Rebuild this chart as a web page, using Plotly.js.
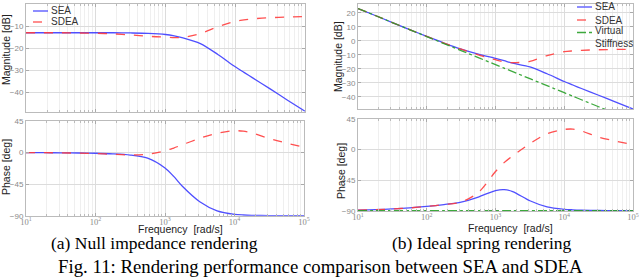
<!DOCTYPE html>
<html>
<head>
<meta charset="utf-8">
<script src="https://cdn.plot.ly/plotly-3.0.1.min.js"></script>
<style>html,body{margin:0;padding:0;background:#fff;}#chart{width:640px;height:278px;}</style>
</head>
<body>
<div id="chart"></div>
<script>
// Frequency grid [rad/s]
const freq = [10, 17.8, 31.6, 56.2, 100, 178, 316, 562, 1000, 1334, 1778, 3162, 5623, 10000, 13335, 17783, 31623, 56234, 100000];

// (a) Null impedance rendering
const nullMagSEA   = [-13, -13, -13, -13, -13, -13, -13.1, -13.3, -13.8, -14.4, -15.3, -17.9, -22.8, -28.4, -30.9, -33.4, -38.4, -43.5, -48.5];
const nullMagSDEA  = [-13, -13, -13, -13.1, -13.2, -13.5, -14, -14.6, -15, -15.2, -15.1, -13.4, -10.3, -7.8, -7.2, -6.7, -6.2, -5.9, -5.7];
const nullPhSEA    = [0, -0.2, -0.3, -0.6, -1, -1.8, -3.5, -8, -22, -34, -48, -70, -83, -88, -89, -89.5, -89.8, -90, -90];
const nullPhSDEA   = [0, -0.2, -0.4, -0.8, -1.5, -2.5, -3.3, -2.5, 2.5, 6.5, 11, 20.5, 27.5, 31.2, 30.5, 28, 20, 13.5, 7.7];

// (b) Ideal spring rendering
const springMagSEA  = [23, 18, 13, 8, 3.1, -1.6, -5.9, -9.5, -12.5, -14.2, -16, -18.6, -23.5, -29, -31.5, -34, -38.8, -43.7, -48.6];
const springMagSDEA = [23, 18, 13, 8, 3.1, -1.6, -6, -10, -13.5, -15, -15.6, -14.7, -10.5, -7.8, -7.2, -6.8, -6.4, -6.2, -6.1];
const springMagVS   = [23, 18, 13, 8, 3, -2, -7, -12, -17, -19.5, -22, -27, -32, -37, -39.5, -42, -47, -52, -57];
const springPhSEA   = [-88.6, -88, -87, -85.5, -83.3, -80.5, -77, -69.5, -60, -58.6, -61.5, -75, -84, -87.5, -88.3, -88.8, -89.3, -89.5, -89.5];
const springPhSDEA  = [-88.6, -88, -87, -85.5, -83.3, -80.5, -77, -63, -32, -19, -9, 8.8, 23.4, 29.7, 30.2, 27.5, 18.4, 12.6, 7.3];
const springPhVS    = [-89.5, -89.5, -89.5, -89.5, -89.5, -89.5, -89.5, -89.5, -89.5, -89.5, -89.5, -89.5, -89.5, -89.5, -89.5, -89.5, -89.5, -89.5, -89.5];

// Tick labels
const xMajor = [10, 100, 1000, 10000, 100000];
const xMajorText = ['10<sup>1</sup>', '10<sup>2</sup>', '10<sup>3</sup>', '10<sup>4</sup>', '10<sup>5</sup>'];
const magTicksA = [0, -10, -20, -30, -40];
const magTicksB = [20, 10, 0, -10, -20, -30, -40];
const phTicks = [45, 0, -45, -90];
const legendA = ['SEA', 'SDEA'];
const legendB = ['SEA', 'SDEA', 'Virtual<br>Stiffness'];

const xMinor = [];
xMajor.slice(0, 4).forEach(d => { for (let k = 2; k <= 9; k++) xMinor.push(d * k); });

const BLUE = 'rgba(60,60,255,0.9)';
const RED = 'rgba(255,60,60,0.9)';
const GREEN = 'rgba(40,160,40,0.9)';
const LW = 1.3;

function tr(y, name, color, dash, xa, ya) {
  return {x: freq, y: y, type: 'scatter', mode: 'lines', name: name,
    line: {color: color, width: LW, dash: dash, shape: 'spline', smoothing: 0.8},
    xaxis: xa, yaxis: ya, showlegend: false};
}

const data = [
  tr(nullMagSEA, 'SEA', BLUE, 'solid', 'x', 'y'),
  tr(nullMagSDEA, 'SDEA', RED, 'dash', 'x', 'y'),
  tr(nullPhSEA, 'SEA', BLUE, 'solid', 'x2', 'y2'),
  tr(nullPhSDEA, 'SDEA', RED, 'dash', 'x2', 'y2'),
  tr(springMagSEA, 'SEA', BLUE, 'solid', 'x3', 'y3'),
  tr(springMagSDEA, 'SDEA', RED, 'dash', 'x3', 'y3'),
  tr(springMagVS, 'Virtual Stiffness', GREEN, 'dashdot', 'x3', 'y3'),
  tr(springPhSEA, 'SEA', BLUE, 'solid', 'x4', 'y4'),
  tr(springPhSDEA, 'SDEA', RED, 'dash', 'x4', 'y4'),
  tr(springPhVS, 'Virtual Stiffness', GREEN, 'dashdot', 'x4', 'y4')
];

const W = 640, H = 278;
const px = v => v / W;
const py = v => 1 - v / H;

function xax(d0, d1, showLabels, anchor) {
  return {type: 'log', range: [1, 5], domain: [px(d0), px(d1)], anchor: anchor,
    tickvals: xMajor, ticktext: xMajorText, showticklabels: showLabels, ticklabelstandoff: -2,
    tickfont: {family: 'Liberation Serif', size: 8.5, color: '#8a8a8a'},
    ticks: 'inside', ticklen: 3, tickcolor: '#aaa',
    showline: true, mirror: 'ticks', linecolor: '#bbb', linewidth: 1,
    showgrid: true, gridcolor: '#dcdcdc', gridwidth: 1, zeroline: false,
    minor: {tickvals: xMinor, ticks: 'inside', ticklen: 2, tickcolor: '#bbb', showgrid: true, gridcolor: '#efefef', gridwidth: 1}};
}
function yax(d0, d1, range, tv, anchor) {
  return {range: range, domain: [py(d1), py(d0)], tickvals: tv, anchor: anchor,
    tickfont: {family: 'Liberation Sans', size: 8, color: '#8a8a8a'},
    ticks: 'inside', ticklen: 3, tickcolor: '#aaa',
    showline: true, mirror: 'ticks', linecolor: '#bbb', linewidth: 1,
    showgrid: true, gridcolor: '#dcdcdc', gridwidth: 1, zeroline: false};
}

const titleFont = {family: 'Liberation Sans', size: 10.5, color: '#222'};
const legFont = {family: 'Liberation Sans', size: 10, color: '#333'};
const capFont = {family: 'Liberation Serif', size: 17.5, color: '#000'};

// Legends drawn as sample lines + labels (paper px positions)
const shapes = [];
const annotations = [];
function legItem(x0, x1, yLine, label, yText, color, dash) {
  shapes.push({type: 'line', xref: 'paper', yref: 'paper', x0: px(x0), x1: px(x1), y0: py(yLine), y1: py(yLine),
    line: {color: color, width: LW, dash: dash}});
  annotations.push({text: label, xref: 'paper', yref: 'paper', x: px(x1 + 1), y: py(yText), xanchor: 'left', yanchor: 'middle',
    showarrow: false, font: legFont, align: 'left'});
}
legItem(33, 48, 11, legendA[0], 11, BLUE, 'solid');
legItem(33, 48, 22, legendA[1], 22, RED, 'dash');
legItem(577, 592, 7, legendB[0], 7, BLUE, 'solid');
legItem(577, 592, 20, legendB[1], 20, RED, 'dash');
legItem(577, 592, 32.5, legendB[2], 37, GREEN, 'dashdot');

annotations.push(
  {text: 'Magnitude [dB]', xref: 'paper', yref: 'paper', x: px(6), y: py(50), textangle: -90, showarrow: false, font: titleFont, xanchor: 'center', yanchor: 'middle'},
  {text: 'Phase [deg]', xref: 'paper', yref: 'paper', x: px(6), y: py(167), textangle: -90, showarrow: false, font: titleFont, xanchor: 'center', yanchor: 'middle'},
  {text: 'Magnitude [dB]', xref: 'paper', yref: 'paper', x: px(338), y: py(57), textangle: -90, showarrow: false, font: titleFont, xanchor: 'center', yanchor: 'middle'},
  {text: 'Phase [deg]', xref: 'paper', yref: 'paper', x: px(341), y: py(171), textangle: -90, showarrow: false, font: titleFont, xanchor: 'center', yanchor: 'middle'},
  {text: 'Frequency  [rad/s]', xref: 'paper', yref: 'paper', x: px(180), y: py(229), showarrow: false, font: titleFont, xanchor: 'center', yanchor: 'middle'},
  {text: 'Frequency  [rad/s]', xref: 'paper', yref: 'paper', x: px(510), y: py(228), showarrow: false, font: titleFont, xanchor: 'center', yanchor: 'middle'},
  {text: '(a) Null impedance rendering', xref: 'paper', yref: 'paper', x: px(154), y: py(243), showarrow: false, font: capFont, xanchor: 'center', yanchor: 'middle'},
  {text: '(b) Ideal spring rendering', xref: 'paper', yref: 'paper', x: px(482), y: py(243), showarrow: false, font: capFont, xanchor: 'center', yanchor: 'middle'},
  {text: 'Fig. 11: Rendering performance comparison between SEA and SDEA', xref: 'paper', yref: 'paper', x: px(320), y: py(266), showarrow: false, font: {family: 'Liberation Serif', size: 18.8, color: '#000'}, xanchor: 'center', yanchor: 'middle'}
);

const layout = {
  width: W, height: H,
  margin: {l: 0, r: 0, t: 0, b: 0},
  paper_bgcolor: '#fff', plot_bgcolor: '#fff',
  xaxis: xax(26, 305, false, 'y'), yaxis: yax(4, 111.7, [-48.7, 0], magTicksA, 'x'),
  xaxis2: xax(26, 304, true, 'y2'), yaxis2: yax(121, 215.7, [-90, 45], phTicks, 'x2'),
  xaxis3: xax(358, 633, false, 'y3'), yaxis3: yax(4, 109, [-48.6, 26.2], magTicksB, 'x3'),
  xaxis4: xax(358, 633, true, 'y4'), yaxis4: yax(119, 211, [-90, 45], phTicks, 'x4'),
  shapes: shapes,
  annotations: annotations,
  showlegend: false
};

Plotly.newPlot('chart', data, layout, {displayModeBar: false, staticPlot: true});
</script>
</body>
</html>
